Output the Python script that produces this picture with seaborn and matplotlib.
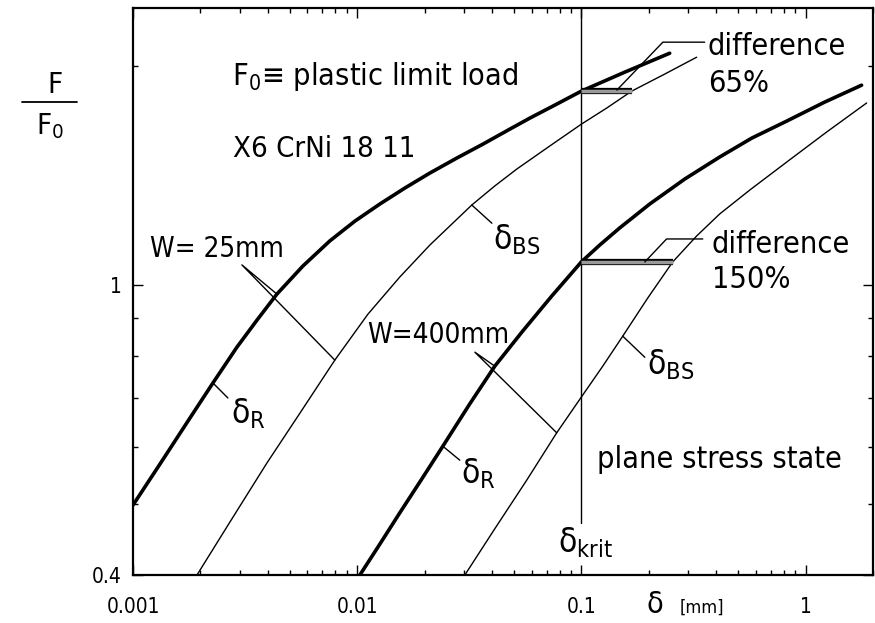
import matplotlib
matplotlib.use('Agg')
import matplotlib.pyplot as plt
from matplotlib.lines import Line2D
from matplotlib.ticker import FixedLocator, NullFormatter
import seaborn as sns

# crack opening delta [mm] vs F/F0
# W = 25 mm specimen
w25_r_delta = [0.001, 0.001319, 0.001795, 0.002273, 0.002909, 0.003571, 0.004385,
               0.005724, 0.007554, 0.009765, 0.01262, 0.01632, 0.0211, 0.02782,
               0.03634, 0.04795, 0.05888, 0.07608, 0.1, 0.1561, 0.2478]
w25_r_load  = [0.499, 0.568, 0.657, 0.734, 0.822, 0.895, 0.972,
               1.062, 1.150, 1.224, 1.292, 1.359, 1.425, 1.494,
               1.561, 1.637, 1.695, 1.766, 1.846, 1.960, 2.081]
w25_bs_delta = [0.001929, 0.002707, 0.003958, 0.005551, 0.00795, 0.01116, 0.0155,
                0.0211, 0.03246, 0.04111, 0.05152, 0.07228, 0.1, 0.1298, 0.1677,
                0.2353, 0.3269]
w25_bs_load  = [0.40, 0.473, 0.570, 0.667, 0.789, 0.912, 1.026,
                1.135, 1.288, 1.368, 1.443, 1.552, 1.663, 1.750, 1.846,
                1.948, 2.055]

# W = 400 mm specimen
w400_r_delta = [0.01028, 0.01262, 0.0155, 0.01943, 0.02411, 0.03179, 0.04111,
                0.05479, 0.07379, 0.1, 0.1208, 0.1483, 0.2018, 0.2891, 0.414,
                0.5751, 0.8236, 1.2166, 1.779]
w400_r_load  = [0.40, 0.441, 0.487, 0.542, 0.601, 0.687, 0.774,
                0.865, 0.966, 1.076, 1.135, 1.198, 1.292, 1.398, 1.499,
                1.591, 1.679, 1.783, 1.881]
w400_bs_delta = [0.03022, 0.04111, 0.0571, 0.07765, 0.1, 0.1246, 0.153, 0.1978,
                 0.2556, 0.3269, 0.414, 0.5633, 0.8236, 1.2419, 1.873]
w400_bs_load  = [0.40, 0.463, 0.540, 0.627, 0.702, 0.774, 0.851, 0.960,
                 1.076, 1.168, 1.252, 1.350, 1.475, 1.622, 1.778]

delta_krit = 0.1
diff_65  = ([0.1, 0.1677], [1.846, 1.846])
diff_150 = ([0.1, 0.2556], [1.076, 1.076])

x_ticks = [0.001, 0.01, 0.1, 1]
x_tick_labels = ['0.001', '0.01', '0.1', '1']
y_ticks = [0.4, 1]
y_tick_labels = ['0.4', '1']
y_minor = [0.5, 0.6, 0.7, 0.8, 0.9, 2]

sns.set_style('ticks')
plt.rcParams['font.family'] = ['DejaVu Sans']
plt.rcParams['font.stretch'] = 'condensed'
plt.rcParams['mathtext.default'] = 'regular'
for key in ('text.color', 'axes.labelcolor', 'axes.edgecolor', 'xtick.color', 'ytick.color'):
    plt.rcParams[key] = 'black'

fig = plt.figure(figsize=(8.75, 6.23), dpi=100)
ax = fig.add_axes([0.152, 0.077, 0.8457, 0.910])

thick = dict(color='black', linewidth=2.6, estimator=None, sort=False, ax=ax)
thin = dict(color='black', linewidth=1.0, estimator=None, sort=False, ax=ax)
sns.lineplot(x=w25_r_delta, y=w25_r_load, **thick)
sns.lineplot(x=w25_bs_delta, y=w25_bs_load, **thin)
sns.lineplot(x=w400_r_delta, y=w400_r_load, **thick)
sns.lineplot(x=w400_bs_delta, y=w400_bs_load, **thin)

ax.set_xscale('log')
ax.set_yscale('log')
ax.set_xlim(0.001, 2.0)
ax.set_ylim(0.4, 2.4)

# delta_krit line, stops short of its label
ax.axvline(delta_krit, ymin=0.092, ymax=1, color='black', linewidth=1.0)

# shaded "difference" bars
for xs, ys in (diff_65, diff_150):
    ax.plot(xs, ys, color='black', linewidth=4.5, solid_capstyle='butt')
    ax.plot(xs, ys, color='#9a9a9a', linewidth=2.5, solid_capstyle='butt')

# leader lines
leaders = [
    ([0.144, 0.231, 0.355], [1.852, 2.155, 2.155]),        # 65 %
    ([0.192, 0.240, 0.348], [1.076, 1.157, 1.157]),        # 150 %
    ([0.004385, 0.00306, 0.00795], [0.972, 1.066, 0.789]),  # W=25mm
    ([0.04111, 0.0335, 0.07765], [0.774, 0.809, 0.627]),   # W=400mm
    ([0.002273, 0.00265], [0.734, 0.700]),                 # delta_R 25
    ([0.02411, 0.0287], [0.601, 0.575]),                   # delta_R 400
    ([0.03246, 0.0399], [1.288, 1.216]),                   # delta_BS 25
    ([0.153, 0.192], [0.851, 0.796]),                      # delta_BS 400
]
for xs, ys in leaders:
    ax.plot(xs, ys, color='black', linewidth=1.0)

fs = 22
fd = 24
ax.text(0.00276, 1.882, r'$F_0$≡ plastic limit load', fontsize=fs, va='baseline')
ax.text(0.00279, 1.499, 'X6 CrNi 18 11', fontsize=21, va='baseline')
ax.text(0.00237, 1.093, 'W= 25mm', fontsize=20, ha='center', va='baseline')
ax.text(0.0231, 0.832, 'W=400mm', fontsize=20, ha='center', va='baseline')
ax.text(0.366, 2.068, 'difference', fontsize=fs, va='baseline')
ax.text(0.366, 1.840, '65%', fontsize=fs, va='baseline')
ax.text(0.381, 1.107, 'difference', fontsize=fs, va='baseline')
ax.text(0.381, 0.991, '150%', fontsize=fs, va='baseline')
ax.text(0.117, 0.561, 'plane stress state', fontsize=fs, va='baseline')
ax.text(0.0786, 0.430, r'$\delta_{krit}$', fontsize=fd, va='baseline')
ax.text(0.002735, 0.704, r'$\delta_R$', fontsize=fd, va='top')
ax.text(0.0290, 0.583, r'$\delta_R$', fontsize=fd, va='top')
ax.text(0.0403, 1.220, r'$\delta_{BS}$', fontsize=fd, va='top')
ax.text(0.1957, 0.822, r'$\delta_{BS}$', fontsize=fd, va='top')

# axis labels
fig.text(0.739, 0.016, 'δ', fontsize=22, va='baseline')
fig.text(0.777, 0.016, '[mm]', fontsize=13, va='baseline')
fig.text(0.063, 0.851, 'F', fontsize=21, ha='center', va='baseline')
fig.add_artist(Line2D([0.025, 0.088], [0.836, 0.836], transform=fig.transFigure,
                      color='black', linewidth=1.3))
fig.text(0.057, 0.798, r'$F_0$', fontsize=21, ha='center', va='center')

ax.set_xticks(x_ticks, labels=x_tick_labels)
ax.xaxis.set_minor_formatter(NullFormatter())
ax.set_yticks(y_ticks, labels=y_tick_labels)
ax.yaxis.set_minor_locator(FixedLocator(y_minor))
ax.yaxis.set_minor_formatter(NullFormatter())
ax.tick_params(which='both', direction='in', top=True, right=True, width=1.0)
ax.tick_params(which='major', length=7, labelsize=15)
ax.tick_params(which='minor', length=3.5)
ax.tick_params(axis='x', pad=16)
ax.tick_params(axis='y', pad=8)
for side in ax.spines.values():
    side.set_linewidth(1.6)

fig.savefig('out.png', dpi=100)
